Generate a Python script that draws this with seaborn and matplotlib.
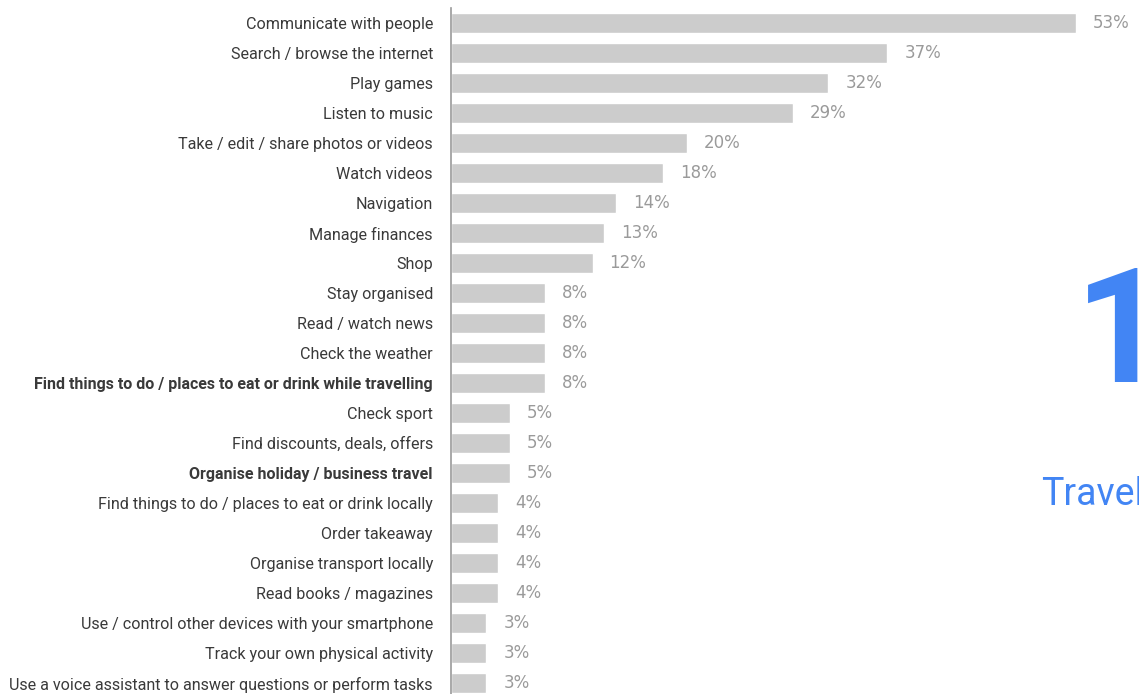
import matplotlib
matplotlib.use("Agg")
import matplotlib.pyplot as plt
import seaborn as sns
import pandas as pd

categories = [
    "Communicate with people",
    "Search / browse the internet",
    "Play games",
    "Listen to music",
    "Take / edit / share photos or videos",
    "Watch videos",
    "Navigation",
    "Manage finances",
    "Shop",
    "Stay organised",
    "Read / watch news",
    "Check the weather",
    "Find things to do / places to eat or drink while travelling",
    "Check sport",
    "Find discounts, deals, offers",
    "Organise holiday / business travel",
    "Find things to do / places to eat or drink locally",
    "Order takeaway",
    "Organise transport locally",
    "Read books / magazines",
    "Use / control other devices with your smartphone",
    "Track your own physical activity",
    "Use a voice assistant to answer questions or perform tasks",
]
values = [53, 37, 32, 29, 20, 18, 14, 13, 12, 8, 8, 8, 8, 5, 5, 5, 4, 4, 4, 4, 3, 3, 3]
bold_categories = [
    "Find things to do / places to eat or drink while travelling",
    "Organise holiday / business travel",
]
big_number = "1"
big_caption = "Travel"

df = pd.DataFrame({"category": categories, "value": values})

sns.set_theme(style="white")
plt.rcParams["font.family"] = ["Roboto", "DejaVu Sans"]

W, H = 1139, 694
fig = plt.figure(figsize=(W / 100, H / 100), dpi=100)
ax = fig.add_axes([451 / W, (H - 698) / H, (1076 - 451) / W, 690 / H])

sns.barplot(data=df, y="category", x="value", orient="h", color="#cccccc",
            saturation=1, width=0.65, ax=ax)
ax.set_xlim(0, 53)
ax.set_ylim(len(categories) - 0.5, -0.5)
ax.set_xlabel("")
ax.set_ylabel("")
ax.set_xticks([])
for s in ["top", "right", "bottom"]:
    ax.spines[s].set_visible(False)
ax.spines["left"].set_color("#999999")
ax.spines["left"].set_linewidth(1.2)
ax.tick_params(axis="y", length=0, pad=13)
for lbl in ax.get_yticklabels():
    lbl.set_fontsize(11.6)
    lbl.set_color("#3a3a3a")
    if lbl.get_text() in bold_categories:
        lbl.set_fontweight("bold")
        lbl.set_fontsize(11.5)

for i, v in enumerate(values):
    ax.annotate(f"{v}%", xy=(v, i), xytext=(17, 0), textcoords="offset pixels",
                va="center", ha="left", fontsize=12, color="#9a9a9a",
                family="DejaVu Sans", annotation_clip=False)

fig.text(1075 / W, 1 - 382 / H, big_number, fontsize=115, color="#4285F4",
         fontweight="bold", ha="left", va="baseline")
fig.text(1041 / W, 1 - 505 / H, big_caption, fontsize=27, color="#4285F4",
         ha="left", va="baseline")

fig.savefig("out.png", dpi=100)
